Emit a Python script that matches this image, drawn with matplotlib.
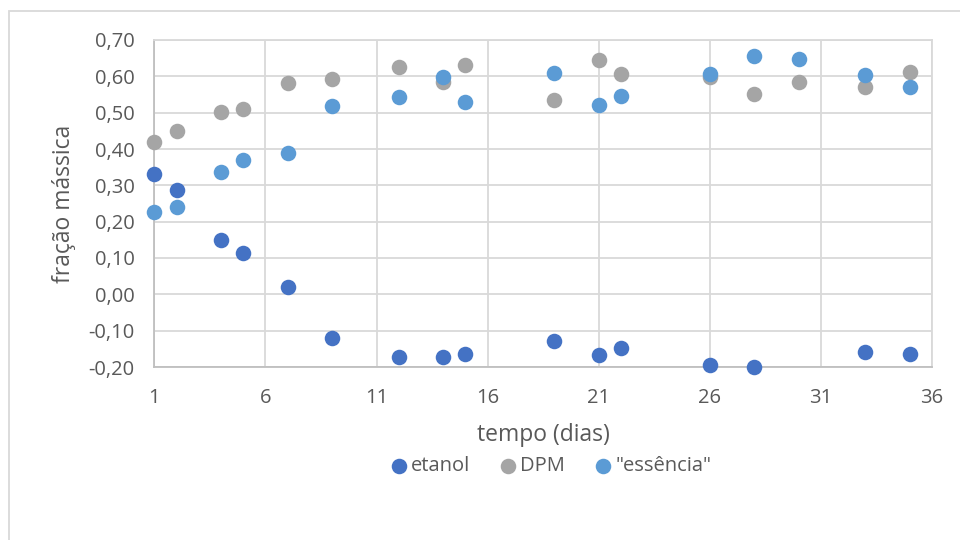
import matplotlib

matplotlib.use("Agg")
import matplotlib.pyplot as plt
from matplotlib.patches import Rectangle
from matplotlib.ticker import FuncFormatter, MultipleLocator

# sampling days and mass fractions per component
dias = [1, 2, 4, 5, 7, 9, 12, 14, 15, 19, 21, 22, 26, 28, 30, 33, 35]
etanol = [0.331, 0.288, 0.150, 0.113, 0.021, -0.119, -0.172, -0.172, -0.163,
          -0.129, -0.168, -0.149, -0.195, -0.200, None, -0.158, -0.163]
dpm = [0.418, 0.450, 0.501, 0.509, 0.582, 0.593, 0.625, 0.585, 0.632,
       0.536, 0.645, 0.606, 0.597, 0.552, 0.584, 0.570, 0.612]
essencia = [0.227, 0.241, 0.337, 0.370, 0.390, 0.519, 0.544, 0.597, 0.529,
            0.609, 0.520, 0.545, 0.607, 0.656, 0.647, 0.603, 0.571]

series = [("etanol", etanol, "#4472C4"),
          ("DPM", dpm, "#A5A5A5"),
          ('"essência"', essencia, "#5B9BD5")]

TXT = "#595959"
GRID = "#D9D9D9"
plt.rcParams["font.family"] = ["Open Sans", "DejaVu Sans"]

fig = plt.figure(figsize=(9.6, 5.4), dpi=100)
ax = fig.add_axes([154.3 / 960, 1 - 367 / 540, (932 - 154.3) / 960, (367 - 40) / 540])

for name, vals, col in series:
    xs = [d for d, v in zip(dias, vals) if v is not None]
    ys = [v for v in vals if v is not None]
    ax.scatter(xs, ys, s=125, color=col, label=name, zorder=3, linewidths=0, clip_on=False)

ax.set_xlim(1, 36)
ax.set_ylim(-0.20, 0.70)
ax.set_xticks(range(1, 37, 5))
ax.yaxis.set_major_locator(MultipleLocator(0.10))
ax.yaxis.set_major_formatter(FuncFormatter(lambda v, _: f"{v:.2f}".replace(".", ",").replace("-0,00", "0,00")))
ax.grid(True, color=GRID, linewidth=1.3, zorder=0)
for s in ax.spines.values():
    s.set_color(GRID)
    s.set_linewidth(1.3)
ax.spines["left"].set_color("#BFBFBF")
ax.spines["bottom"].set_color("#BFBFBF")
ax.tick_params(length=0, labelsize=14.5, labelcolor=TXT)
ax.tick_params(axis="y", pad=14)
ax.tick_params(axis="x", pad=15)

ax.set_xlabel("tempo (dias)", fontsize=16.5, color=TXT, labelpad=11)
ax.set_ylabel("fração mássica", fontsize=16.5, color=TXT, labelpad=9)

leg = fig.legend(loc="center", bbox_to_anchor=(550 / 960, 1 - 466 / 540), ncol=3,
                 frameon=False, fontsize=14.5, handlelength=1.0, handletextpad=0.1,
                 columnspacing=1.4)
for t in leg.get_texts():
    t.set_color(TXT)

# chart-area border (only left and top edges fall inside the canvas)
fig.patches.append(Rectangle((9 / 960, -0.1), 1.2, 1 - 11 / 540 + 0.1, transform=fig.transFigure,
                             fill=False, edgecolor=GRID, linewidth=1.3))

fig.savefig("out.png", dpi=100)
